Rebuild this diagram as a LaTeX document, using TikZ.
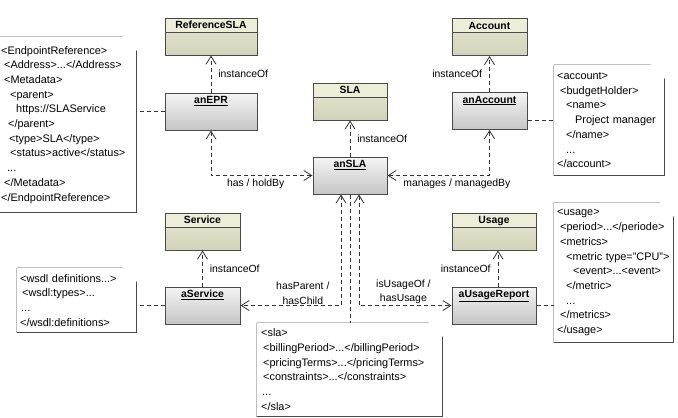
\documentclass[tikz,border=0pt]{standalone}
\usepackage{fontspec}
\setmainfont{Liberation Sans}
\usepackage{tikz}
\usetikzlibrary{arrows.meta,positioning}

\definecolor{boxline}{HTML}{4A4A4A}
\definecolor{clshead}{HTML}{EDEDD8}
\definecolor{clstop}{HTML}{E8E8D4}
\definecolor{clsbot}{HTML}{D3D3BB}
\definecolor{objtop}{HTML}{F4F4F4}
\definecolor{objbot}{HTML}{C6C6C6}
\definecolor{linkcol}{HTML}{333333}

\newcommand{\diagfont}{\fontsize{10.4pt}{14.7pt}\selectfont}
\newcommand{\notefont}{\fontsize{10.9pt}{14.7pt}\selectfont}
\newcommand{\xmlind}[1]{\hspace*{#1pt}}

\tikzset{
classbox/.style={draw=boxline, line width=1pt, top color=clstop, bottom color=clsbot,
  inner ysep=1pt, text height=9.5pt, text depth=25.5pt, minimum width=#1,
  font=\diagfont\bfseries,
  path picture={
    \fill[clshead] (path picture bounding box.north west) rectangle ([yshift=-14pt]path picture bounding box.north east);
    \draw[boxline, line width=1pt] ([yshift=-14pt]path picture bounding box.north west) -- ([yshift=-14pt]path picture bounding box.north east);
  }},
objbox/.style={draw=boxline, line width=1pt, top color=objtop, bottom color=objbot,
  inner ysep=1pt, text height=9.5pt, text depth=25.5pt, minimum width=#1,
  font=\diagfont\bfseries},
note/.style={fill=white, inner ysep=0pt, align=left, anchor=north west, font=\notefont,
  append after command={\pgfextra{
    \draw[boxline, line width=0.8pt]
    (\tikzlastnode.north west) -- ([xshift=-14pt]\tikzlastnode.north east)
    -- ([yshift=-14pt]\tikzlastnode.north east) -- (\tikzlastnode.south east)
    -- (\tikzlastnode.south west) -- cycle
    ([xshift=-14pt]\tikzlastnode.north east) |- ([yshift=-14pt]\tikzlastnode.north east);}}},
notelink/.style={draw=linkcol, line width=0.8pt, dash pattern=on 4pt off 3pt},
inst/.style={notelink, -{Straight Barb[length=8pt,width=10pt]}},
assoc/.style={notelink, {Straight Barb[length=8pt,width=10pt]}-{Straight Barb[length=8pt,width=10pt]}},
lbl/.style={inner xsep=7pt, inner ysep=3pt}
}

\begin{document}
\begin{tikzpicture}[x=1pt, y=-1pt, font=\diagfont]
\useasboundingbox (0,0) rectangle (678,418);

% classes
\node[classbox=92pt] (refsla) at (211,36.5) {ReferenceSLA};
\node[classbox=74pt] (sla) at (350,101.5) {SLA};
\node[classbox=75pt] (account) at (489.5,37) {Account};
\node[classbox=75pt] (service) at (202.5,231.5) {Service};
\node[classbox=84pt] (usage) at (494,231.5) {Usage};

% instances
\node[objbox=92pt] (anepr) at (211,111.5) {\underline{anEPR}};
\node[objbox=74pt] (ansla) at (350,175.5) {\underline{anSLA}};
\node[objbox=75pt] (anaccount) at (489.5,111) {\underline{anAccount}};
\node[objbox=75pt] (aservice) at (202.5,305.5) {\underline{aService}};
\node[objbox=84pt] (ausage) at (494,305.5) {\underline{aUsageReport}};

% notes
\node[note, inner xsep=4pt, text width=131pt, minimum height=175pt] (eprnote) at (-3,37)
  {<EndpointReference>\\
   \xmlind{3}<Address>...</Address>\\
   \xmlind{3}<Metadata>\\
   \xmlind{9}<parent>\\
   \xmlind{15}https://SLAService\\
   \xmlind{7}</parent>\\
   \xmlind{8}<type>SLA</type>\\
   \xmlind{9}<status>active</status>\\
   \xmlind{6}...\\
   \xmlind{3}</Metadata>\\
   </EndpointReference>};
\node[note, inner xsep=3pt, text width=104pt, minimum height=110pt] (accnote) at (554,65)
  {<account>\\
   \xmlind{3}<budgetHolder>\\
   \xmlind{9}<name>\\
   \xmlind{18}Project manager\\
   \xmlind{9}</name>\\
   \xmlind{9}...\\
   </account>};
\node[note, inner xsep=3pt, text width=113pt, minimum height=64pt] (wsdlnote) at (17,268)
  {<wsdl definitions...>\\
   \xmlind{2}<wsdl:types>...\\
   \xmlind{1}...\\
   </wsdl:definitions>};
\node[note, inner xsep=4pt, text width=177pt, minimum height=93pt] (slanote) at (257,323)
  {<sla>\\
   \xmlind{2}<billingPeriod>...</billingPeriod>\\
   \xmlind{2}<pricingTerms>...</pricingTerms>\\
   \xmlind{2}<constraints>...</constraints>\\
   \xmlind{1}...\\
   </sla>};
\node[note, inner xsep=3pt, text width=113pt, minimum height=139pt] (usagenote) at (554,203)
  {<usage>\\
   \xmlind{3}<period>...</periode>\\
   \xmlind{3}<metrics>\\
   \xmlind{9}<metric type="CPU">\\
   \xmlind{16}<event>...<event>\\
   \xmlind{9}</metric>\\
   \xmlind{9}...\\
   \xmlind{3}</metrics>\\
   </usage>};

% instanceOf links
\draw[inst] (anepr.north) -- node[lbl, right] (iofepr) {instanceOf} (refsla.south);
\draw[inst] (ansla.north) -- node[lbl, right] (iofsla) {instanceOf} (sla.south);
\draw[inst] (anaccount.north) -- node[lbl, left] (iofacc) {instanceOf} (account.south);
\draw[inst] (aservice.north) -- node[lbl, right] (iofsrv) {instanceOf} (service.south);
\draw[inst] ([xshift=4pt]ausage.north) -- node[lbl, left] (iofuse) {instanceOf} ([xshift=4pt]usage.south);

% associations
\draw[assoc] (ansla.west) -| node[lbl, below, pos=0.28] (hasholdby) {has / holdBy} (anepr.south);
\draw[assoc] (ansla.east) -| node[lbl, below, pos=0.34] (manages) {manages / managedBy} (anaccount.south);
\draw[assoc] ([xshift=-9pt]ansla.south) |- node[above, pos=0.69, align=center, inner sep=1pt] (hasparent) {hasParent /\\hasChild} (aservice.east);
\draw[assoc] ([xshift=9pt]ansla.south) |- node[above, pos=0.74, align=center, inner sep=1pt] (isusageof) {isUsageOf /\\hasUsage} (ausage.west);

% note links
\draw[notelink] (anepr.west) -- (anepr.west -| eprnote.east);
\draw[notelink] (anaccount.east |- accnote.west) -- (accnote.west);
\draw[notelink] (aservice.west) -- (aservice.west -| wsdlnote.east);
\draw[notelink] (ausage.east) -- (ausage.east -| usagenote.west);
\draw[notelink] (ansla.south) -- (ansla.south |- slanote.north);
\end{tikzpicture}
\end{document}
